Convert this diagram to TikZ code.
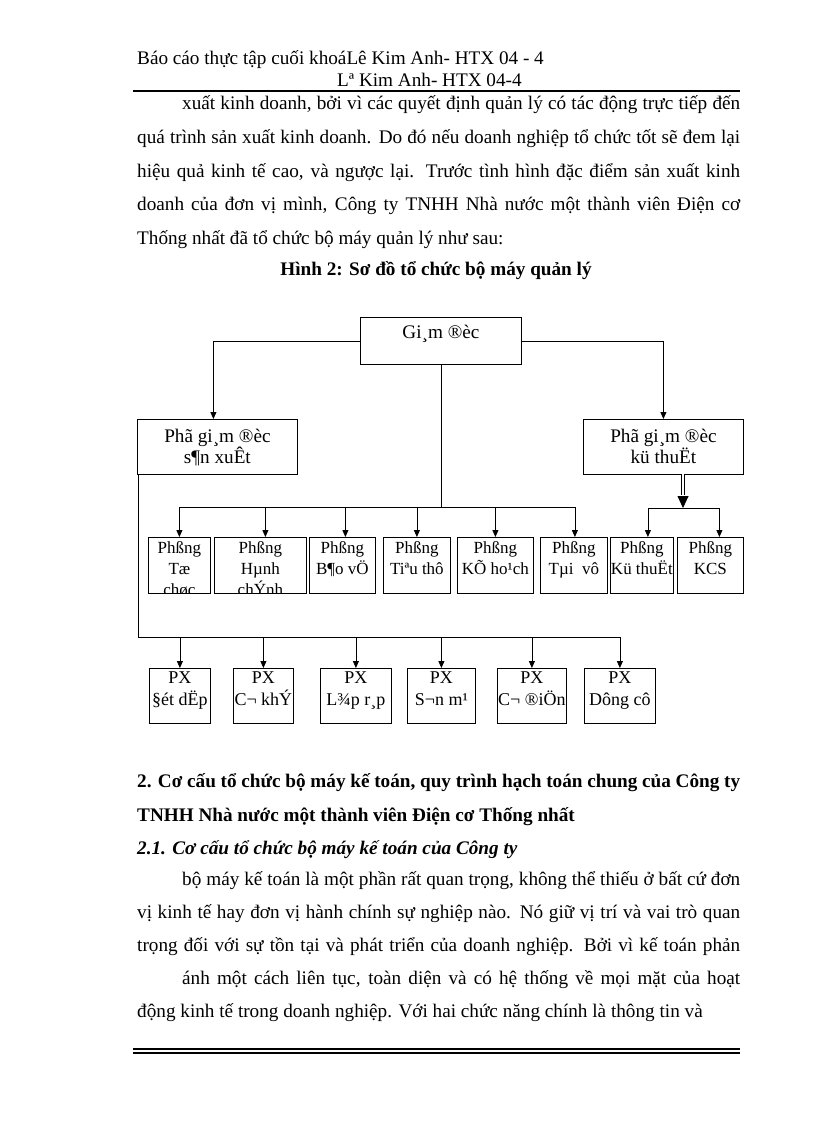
\documentclass[tikz,border=0pt]{standalone}
\usepackage{fontspec}
\setmainfont{Liberation Serif}
\usetikzlibrary{arrows.meta}
\newcommand\jline[1]{\noindent\parfillskip=0pt\relax #1\par}
\begin{document}
\begin{tikzpicture}[x=1pt,y=-1pt,
  box/.style={draw, line width=0.8pt, inner sep=0pt, anchor=north west},
  ln/.style={line width=0.8pt},
  arr/.style={line width=0.8pt, -{Triangle[length=7pt,width=6pt]}},
  big/.style={font=\fontsize{19.2}{21}\selectfont, align=center, inner sep=0pt},
  mid/.style={font=\fontsize{17}{21}\selectfont, align=center, inner sep=0pt, anchor=north},
  low/.style={font=\fontsize{18}{22}\selectfont, align=center, inner sep=0pt, anchor=north},
  txt/.style={font=\fontsize{19.2}{23}\selectfont, inner sep=0pt, anchor=base west},
  par/.style={txt, text width=603pt, align=justify},
  hd/.style={font=\fontsize{19.2}{23}\selectfont\bfseries, inner sep=0pt, anchor=base west}
]
\fill[white] (0,0) rectangle (816,1123);
\useasboundingbox (0,0) rectangle (816,1123);

% header
\node[txt] (h1) at (137,65) {Báo cáo thực tập cuối khoáLê Kim Anh- HTX 04 - 4};
\node[txt] (h2) at (337,87) {Lª Kim Anh- HTX 04-4};
\draw[line width=2pt] (133,91.5) -- (740,91.5);

% top paragraph
\node[par] (a1) at (137,110) {\jline{\hspace*{45pt}xuất kinh doanh, bởi vì các quyết định quản lý có tác động trực tiếp đến}};
\node[par] (a2) at (137,144) {\jline{quá trình sản xuất kinh doanh. Do đó nếu doanh nghiệp tổ chức tốt sẽ đem lại}};
\node[par] (a3) at (137,178) {\jline{hiệu quả kinh tế cao, và ngược lại. Trước tình hình đặc điểm sản xuất kinh}};
\node[par] (a4) at (137,211) {\jline{doanh của đơn vị mình, Công ty TNHH Nhà nước một thành viên Điện cơ}};
\node[txt] (a5) at (137,244) {Thống nhất đã tổ chức bộ máy quản lý như sau:};
\node[hd, anchor=base] (cap) at (436,275) {Hình 2: Sơ đồ tổ chức bộ máy quản lý};

% diagram boxes
\node[box, minimum width=161pt, minimum height=47pt] (gd) at (360,317) {};
\node[big, anchor=base] (gdt) at ([yshift=-21pt]gd.north) {Gi¸m ®èc};
\node[box, minimum width=160pt, minimum height=55pt] (sx) at (137,419) {};
\node[big, anchor=north] (sxt) at ([yshift=-10pt]sx.north) {Phã gi¸m ®èc\\s¶n xuÊt};
\node[box, minimum width=160pt, minimum height=55pt] (kt) at (583,419) {};
\node[big, anchor=north] (ktt) at ([yshift=-10pt]kt.north) {Phã gi¸m ®èc\\kü thuËt};

\node[box, minimum width=62pt, minimum height=56pt] (p1) at (148,537) {};
\node[box, minimum width=92pt, minimum height=56pt] (p2) at (214,537) {};
\node[box, minimum width=66pt, minimum height=56pt] (p3) at (309,537) {};
\node[box, minimum width=67pt, minimum height=56pt] (p4) at (383,537) {};
\node[box, minimum width=76pt, minimum height=56pt] (p5) at (457,537) {};
\node[box, minimum width=67pt, minimum height=56pt] (p6) at (540,537) {};
\node[box, minimum width=63pt, minimum height=56pt] (p7) at (610,537) {};
\node[box, minimum width=66pt, minimum height=56pt] (p8) at (677,537) {};
\begin{scope}
\clip (p1.south west) rectangle (p1.north east);
\node[mid] (p1t) at ([yshift=-4pt]p1.north) {Phßng\\Tæ\\chøc};
\end{scope}
\begin{scope}
\clip (p2.south west) rectangle (p2.north east);
\node[mid] (p2t) at ([yshift=-4pt]p2.north) {Phßng\\Hµnh\\chÝnh};
\end{scope}
\node[mid] (p3t) at ([yshift=-4pt]p3.north) {Phßng\\B¶o vÖ};
\node[mid] (p4t) at ([yshift=-4pt]p4.north) {Phßng\\Tiªu thô};
\node[mid] (p5t) at ([yshift=-4pt]p5.north) {Phßng\\KÕ ho¹ch};
\node[mid] (p6t) at ([yshift=-4pt]p6.north) {Phßng\\Tµi\ \ vô};
\node[mid] (p7t) at ([yshift=-4pt]p7.north) {Phßng\\Kü thuËt};
\node[mid] (p8t) at ([yshift=-4pt]p8.north) {Phßng\\KCS};

\node[box, minimum width=61pt, minimum height=55pt] (x1) at (149,668) {};
\node[box, minimum width=60pt, minimum height=55pt] (x2) at (233,668) {};
\node[box, minimum width=71pt, minimum height=55pt] (x3) at (320,668) {};
\node[box, minimum width=68pt, minimum height=55pt] (x4) at (407,668) {};
\node[box, minimum width=69pt, minimum height=55pt] (x5) at (497,668) {};
\node[box, minimum width=71pt, minimum height=55pt] (x6) at (584,668) {};
\node[low] (x1t) at ([yshift=-4pt]x1.north) {PX\\§ét dËp};
\node[low] (x2t) at ([yshift=-4pt]x2.north) {PX\\C¬ khÝ};
\node[low] (x3t) at ([yshift=-4pt]x3.north) {PX\\L¾p r¸p};
\node[low] (x4t) at ([yshift=-4pt]x4.north) {PX\\S¬n m¹};
\node[low] (x5t) at ([yshift=-4pt]x5.north) {PX\\C¬ ®iÖn};
\node[low] (x6t) at ([yshift=-4pt]x6.north) {PX\\Dông cô};

% connectors
\draw[arr] (gd.west) -| ([xshift=-4pt]sx.north);
\draw[arr] (gd.east) -| (kt.north);
\path (gd.south) ++(0,143) coordinate (bus1);
\draw[ln] (gd.south) -- (bus1);
\draw[arr] (bus1) -| (p1.north);
\draw[arr] (bus1) -| ([xshift=5pt]p2.north);
\draw[arr] (bus1) -| ([xshift=3pt]p3.north);
\draw[arr] (bus1) -| (p4.north);
\draw[arr] (bus1) -| (p5.north);
\draw[arr] (bus1) -| ([xshift=1pt]p6.north);

\coordinate (kta) at (683,474);
\coordinate (ktb) at (683,495);
\coordinate (bus2) at (683,508);
\draw[ln, line width=0.7pt, double, double distance=2pt] (kta) -- (ktb);
\draw[line width=0.8pt, -{Triangle[length=12pt,width=11pt]}] ([yshift=-1pt]ktb) -- (bus2);
\draw[arr] (bus2) -| ([xshift=6pt]p7.north);
\draw[arr] (bus2) -| ([xshift=9pt]p8.north);

\coordinate (bus3) at (138,637);
\draw[ln] ([xshift=1pt]sx.south west) -- (bus3);
\draw[arr] (bus3) -| (x1.north);
\draw[arr] (bus3) -| (x2.north);
\draw[arr] (bus3) -| (x3.north);
\draw[arr] (bus3) -| (x4.north);
\draw[arr] (bus3) -| (x5.north);
\draw[arr] (bus3) -| (x6.north);

% lower section
\node[par, font=\fontsize{19.2}{23}\selectfont\bfseries] (b1) at (137,787) {\jline{2. Cơ cấu tổ chức bộ máy kế toán, quy trình hạch toán chung của Công ty}};
\node[hd] (b2) at (137,821) {TNHH Nhà nước một thành viên Điện cơ Thống nhất};
\node[hd, font=\fontsize{19.2}{23}\selectfont\bfseries\itshape] (b3) at (137,854) {2.1. Cơ cấu tổ chức bộ máy kế toán của Công ty};
\node[par] (c1) at (137,885) {\jline{\hspace*{45pt}bộ máy kế toán là một phần rất quan trọng, không thể thiếu ở bất cứ đơn}};
\node[par] (c2) at (137,918) {\jline{vị kinh tế hay đơn vị hành chính sự nghiệp nào. Nó giữ vị trí và vai trò quan}};
\node[par] (c3) at (137,951) {\jline{trọng đối với sự tồn tại và phát triển của doanh nghiệp. Bởi vì kế toán phản}};
\node[par] (c4) at (137,984) {\jline{\hspace*{45pt}ánh một cách liên tục, toàn diện và có hệ thống về mọi mặt của hoạt}};
\node[txt] (c5) at (137,1017) {động kinh tế trong doanh nghiệp. Với hai chức năng chính là thông tin và};
\draw[line width=1.2pt] (133,1049) -- (740,1049);
\draw[line width=1.2pt] (133,1053) -- (740,1053);
\end{tikzpicture}
\end{document}
